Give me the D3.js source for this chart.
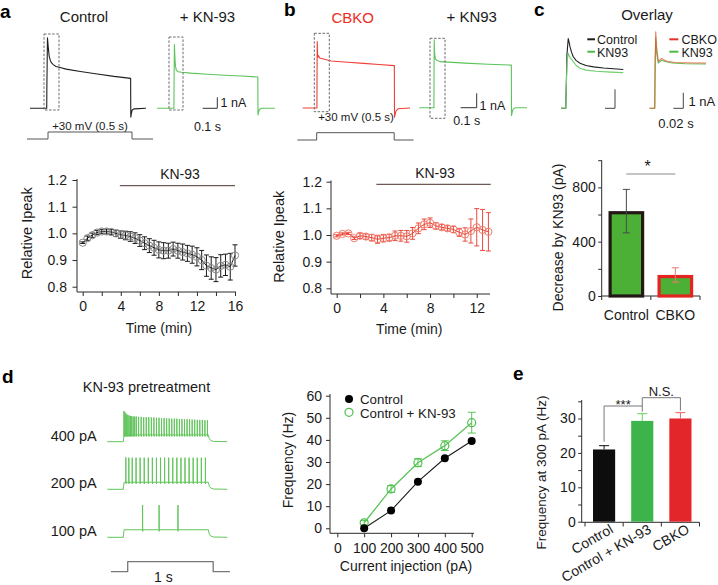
<!DOCTYPE html>
<html>
<head>
<meta charset="utf-8">
<script src="https://cdn.jsdelivr.net/npm/d3@7/dist/d3.min.js"></script>
<style>
html,body{margin:0;padding:0;background:#fff;}
svg{display:block;}
</style>
</head>
<body>
<svg id="fig" width="718" height="585" xmlns="http://www.w3.org/2000/svg"></svg>
<script>
// ================= DATA =================
// a: relative Ipeak time course (Control, KN-93 applied)
const timeA = [0,0.5,1,1.5,2,2.5,3,3.5,4,4.5,5,5.5,6,6.5,7,7.5,8,8.5,9,9.5,10,10.5,11,11.5,12,12.5,13,13.5,14,14.5,15,15.5,16];
const ipeakA = [0.965,0.982,0.993,1.003,1.007,1.007,1.005,1.0,0.995,0.992,0.988,0.982,0.973,0.963,0.954,0.946,0.938,0.935,0.935,0.941,0.935,0.93,0.925,0.92,0.912,0.9,0.879,0.87,0.864,0.878,0.882,0.875,0.917];
const errA = [0.003,0.008,0.008,0.008,0.008,0.009,0.01,0.012,0.014,0.016,0.018,0.02,0.022,0.024,0.026,0.028,0.03,0.03,0.028,0.026,0.028,0.03,0.03,0.032,0.034,0.036,0.04,0.042,0.045,0.042,0.04,0.05,0.04];
const kn93SpanA = [3.9, 16];
// b: relative Ipeak time course (CBKO)
const timeB = [0,0.5,1,1.5,2,2.5,3,3.5,4,4.5,5,5.5,6,6.5,7,7.5,8,8.5,9,9.5,10,10.5,11,11.5,12,12.5,13];
const ipeakB = [0.997,1.004,1.006,0.988,0.997,0.994,0.99,0.984,0.988,0.99,0.997,0.997,0.995,1.006,1.025,1.04,1.046,1.034,1.029,1.025,1.021,1.01,1.002,1.015,1.029,1.019,1.012];
const errB = [0.004,0.004,0.004,0.005,0.01,0.01,0.012,0.015,0.014,0.013,0.018,0.02,0.022,0.022,0.02,0.02,0.018,0.012,0.01,0.01,0.012,0.015,0.025,0.045,0.07,0.077,0.072];
const kn93SpanB = [3.4, 13.2];
const ipeakTicks = [0.8,0.9,1.0,1.1,1.2];
const timeTicksA = [0,2,4,6,8,10,12,14,16];
const timeLabelsA = [0,4,8,12,16];
const timeTicksB = [0,2,4,6,8,10,12];
const timeLabelsB = [0,4,8,12];

// current traces (ms, nA)
const traceCtrlA = [[0,0],[99.5,0],[100.5,2],[104,6.4],[108,5.65],[114,4.75],[121,4.35],[128,4.13],[140,3.95],[155,3.8],[185,3.68],[215,3.56],[300,3.35],[400,3.12],[500,2.9],[599,2.72],[600,-0.8],[603,-0.5],[608,-0.15],[620,-0.05],[690,0]];
const traceKNA = [[0,0],[99.5,0],[100.5,2.5],[102.5,5.8],[104,5.2],[106,4.4],[109,3.8],[114,3.45],[125,3.32],[146,3.28],[200,3.2],[300,3.1],[400,3.0],[500,2.93],[599,2.85],[600,-0.6],[603,-0.4],[608,-0.1],[620,0],[700,0]];
const traceCBKO = [[8,0],[99.5,0],[100.3,2.5],[101.5,4.65],[103,3.9],[106,3.55],[110,3.65],[118,3.5],[190,3.29],[300,3.2],[400,3.12],[500,3.04],[599,2.96],[600,-0.65],[603,-0.5],[610,-0.2],[625,-0.05],[700,0]];
const traceKNB = [[5,0],[99.5,0],[100.3,2.5],[101.5,4.75],[103,4.0],[106,3.6],[110,3.4],[120,3.3],[140,3.22],[300,3.12],[450,3.04],[599,2.98],[600,-0.55],[603,-0.4],[610,-0.1],[625,0],[700,0]];
const cmdStep = [[-25,0],[100,0],[100,1],[600,1],[600,0],[725,0]];
// c overlays
const ovControl = [[90,0],[99.5,0],[100.5,2],[102,5],[104.5,6.4],[106,6.1],[108,5.65],[111,5.15],[114.6,4.73],[120,4.4],[128,4.13],[140,3.93],[155,3.8],[175,3.7],[195,3.63],[214.6,3.56]];
const ovKN93 = [[90,0],[99.5,0],[100.5,1.8],[102,4.2],[104.5,5.05],[106,4.85],[109,4.6],[114.6,4.28],[120,3.95],[128,3.67],[140,3.5],[160,3.4],[190,3.32],[214.6,3.27]];
const ovCBKO = [[89,0],[99.5,0],[100.3,3],[101.5,4.9],[103,4.0],[106.6,3.0],[110,3.1],[113.4,3.2],[117,3.12],[125,3.0],[140,2.94],[160,2.92],[180,2.9],[202,2.9]];
const ovKN93b = [[89,0],[99.5,0],[100.3,2.8],[101.5,4.5],[103,3.6],[106.6,2.9],[110,3.0],[113.4,3.08],[120,3.0],[135,2.9],[160,2.86],[202,2.84]];

// c: decrease by KN93
const decCats = ["Control","CBKO"];
const decVals = [625,155];
const decErr = [160,53];
const decTicks = [0,200,400,600,800,1000];
const decLabels = [0,400,800];

// d: firing traces (spike time ms, peak mV)
const spikes400 = [[8,30],[18,26],[29,22],[41,19],[54,17],[68,15],[83,14],[99,13],[116,12],[134,12],[153,12],[180,11],[210,11],[240,10],[270,10],[300,10],[330,9],[360,9],[390,8],[420,8],[450,7],[480,7],[510,6],[540,6],[570,5],[600,5],[630,5],[660,4],[690,4],[720,3],[750,3],[780,3],[810,2],[840,2],[870,1],[900,1],[930,1],[960,0],[990,0]];
const spikes200 = [[30,34],[65,33],[105,33],[150,33],[198,33],[246,33],[294,33],[342,33],[390,33],[438,33],[486,33],[534,33],[582,33],[630,33],[678,33],[726,33],[774,33],[822,33],[870,33],[918,33],[966,33]];
const spikes100 = [[227,35],[421,35],[643,35]];
const dLabels = ["400 pA","200 pA","100 pA"];
const dPlateau = [-48,-47,-45.5];
const injStep = [[-195,0],[0,0],[0,1],[1000,1],[1000,0],[1195,0]];

// d: f-I curve
const currents = [100,200,300,400,500];
const freqControl = [0,8.0,21.1,31.7,39.5];
const freqKN93 = [2.5,17.8,29.7,37.4,47.8];
const errKN93 = [1.0,1.5,1.8,2.2,4.7];
const freqTicks = [0,10,20,30,40,50,60];
const currentTicks = [0,100,200,300,400,500];

// e: frequency at 300 pA
const eCats = ["Control","Control + KN-93","CBKO"];
const freq300 = [21.0,29.3,30.0];
const freq300Err = [1.1,2.1,1.7];
const eTicks = [0,5,10,15,20,25,30,35];
const eLabels = [0,10,20,30];

// ================= DRAWING =================
const svg = d3.select("#fig");
const FONT = "'Liberation Sans', Arial, Helvetica, sans-serif";
const AX = "#2b2b2b";
const GREEN = "#5cc45a";
const RED = "#ef3e33";

function txt(x, y, s, o = {}) {
  const t = svg.append("text").attr("x", x).attr("y", y).text(s)
    .attr("font-family", FONT).attr("font-size", o.size || 14)
    .attr("fill", o.fill || "#1a1a1a").attr("text-anchor", o.anchor || "start");
  if (o.weight) t.attr("font-weight", o.weight);
  if (o.rot != null) t.attr("transform", `rotate(${o.rot},${x},${y})`);
  return t;
}
function seg(x1, y1, x2, y2, o = {}) {
  const l = svg.append("line").attr("x1", x1).attr("y1", y1).attr("x2", x2).attr("y2", y2)
    .attr("stroke", o.stroke || AX).attr("stroke-width", o.w || 1);
  if (o.dash) l.attr("stroke-dasharray", o.dash);
  return l;
}
function drawTrace(data, x0, pxPerMs, yBase, pxPerUnit, color, w = 1.1, zero = 0, op = 1) {
  const x = d3.scaleLinear().domain([0, 1000]).range([x0, x0 + 1000 * pxPerMs]);
  const y = d3.scaleLinear().domain([zero, zero + 1]).range([yBase, yBase - pxPerUnit]);
  svg.append("path").attr("d", d3.line().x(d => x(d[0])).y(d => y(d[1]))(data))
    .attr("fill", "none").attr("stroke", color).attr("stroke-width", w)
    .attr("stroke-linejoin", "round").attr("stroke-opacity", op);
}
function styleAxis(g) {
  g.select(".domain").remove();
  g.selectAll(".tick line").attr("stroke", AX).attr("stroke-width", 1);
  g.selectAll(".tick text").attr("font-family", FONT).attr("font-size", 14).attr("fill", "#1a1a1a");
}
function leftAxis(scale, xPos, ticks, labeled, fmt, y1, y2, tick, pad) {
  const g = svg.append("g").attr("transform", `translate(${xPos},0)`)
    .call(d3.axisLeft(scale).tickValues(ticks).tickSize(tick).tickPadding(pad)
      .tickFormat(d => labeled.includes(d) ? fmt(d) : ""));
  styleAxis(g);
  seg(xPos, y1, xPos, y2);
}
function bottomAxis(scale, yPos, ticks, labeled, fmt, x1, x2, tick, pad) {
  const g = svg.append("g").attr("transform", `translate(0,${yPos})`)
    .call(d3.axisBottom(scale).tickValues(ticks).tickSize(tick).tickPadding(pad)
      .tickFormat(d => labeled.includes(d) ? fmt(d) : ""));
  styleAxis(g);
  seg(x1, yPos, x2, yPos);
}
function dashBox(x, y, w, h) {
  svg.append("rect").attr("x", x).attr("y", y).attr("width", w).attr("height", h)
    .attr("fill", "none").attr("stroke", "#6a6a6a").attr("stroke-width", 1)
    .attr("stroke-dasharray", "2.5,1.6");
}
function timeCourse(times, vals, errs, x, y, c) {
  const g = svg.append("g");
  times.forEach((t, i) => {
    const cx = x(t), y1 = y(vals[i] - errs[i]), y2 = y(vals[i] + errs[i]);
    g.append("line").attr("x1", cx).attr("x2", cx).attr("y1", y1).attr("y2", y2).attr("stroke", c.err).attr("stroke-width", 1);
    [y1, y2].forEach(yy => g.append("line").attr("x1", cx - 2.5).attr("x2", cx + 2.5).attr("y1", yy).attr("y2", yy).attr("stroke", c.err).attr("stroke-width", 1));
  });
  g.append("path").attr("d", d3.line().x((d, i) => x(times[i])).y(d => y(d))(vals))
    .attr("fill", "none").attr("stroke", c.line).attr("stroke-width", 1);
  g.selectAll("circle").data(vals).join("circle")
    .attr("cx", (d, i) => x(times[i])).attr("cy", d => y(d)).attr("r", 3.6)
    .attr("fill", "none").attr("stroke", c.pt).attr("stroke-width", 1);
}

// ---------- panel labels ----------
txt(0, 18, "a", { size: 19, weight: "bold", fill: "#000" });
txt(284, 16, "b", { size: 19, weight: "bold", fill: "#000" });
txt(534, 16, "c", { size: 19, weight: "bold", fill: "#000" });
txt(2, 383, "d", { size: 19, weight: "bold", fill: "#000" });
txt(513, 380, "e", { size: 19, weight: "bold", fill: "#000" });

// ---------- a: traces ----------
txt(84, 21.5, "Control", { size: 15, anchor: "middle" });
txt(207.5, 21.5, "+ KN-93", { size: 15, anchor: "middle" });
drawTrace(traceCtrlA, 30, 0.168, 108.3, 11, "#1e1e1e", 1.1);
drawTrace(traceKNA, 157.2, 0.168, 108.3, 11, GREEN, 1.1);
drawTrace(cmdStep, 31.2, 0.168, 139, 7, "#555", 1);
txt(90, 130, "+30 mV (0.5 s)", { size: 11.5, anchor: "middle" });
dashBox(44, 34, 15, 76);
dashBox(169, 37, 14, 73);
seg(217.3, 97.3, 217.3, 108.3, { stroke: "#333" });
seg(202.7, 108.3, 217.3, 108.3, { stroke: "#333" });
txt(220.5, 106.5, "1 nA", { size: 12.5 });
txt(207.5, 131, "0.1 s", { size: 12.5, anchor: "middle" });

// ---------- a: time course ----------
const xA = d3.scaleLinear().domain([0, 16]).range([82.7, 235]);
const yA = d3.scaleLinear().domain([0.8, 1.2]).range([286.7, 180]);
leftAxis(yA, 77, ipeakTicks, ipeakTicks, d3.format(".1f"), 179, 292, 4.5, 5.5);
bottomAxis(xA, 292, timeTicksA, timeLabelsA, d3.format("d"), 77, 236, 4, 5.5);
timeCourse(timeA, ipeakA, errA, xA, yA, { err: "#1a1a1a", line: "#1a1a1a", pt: "#8a8a8a" });
seg(xA(kn93SpanA[0]), 185.7, xA(kn93SpanA[1]), 185.7, { stroke: "#4a302a" });
txt(180, 179, "KN-93", { size: 14, anchor: "middle" });
txt(32, 233.3, "Relative Ipeak", { size: 14.5, anchor: "middle", rot: -90 });
txt(159, 333, "Time (min)", { size: 14, anchor: "middle" });

// ---------- b: traces ----------
txt(352.7, 22.5, "CBKO", { size: 15, anchor: "middle", fill: "#ee2b22" });
txt(471.7, 21.5, "+ KN93", { size: 15, anchor: "middle" });
drawTrace(traceCBKO, 301.5, 0.155, 108, 14.3, RED, 1.1);
drawTrace(traceKNB, 418.5, 0.155, 107.7, 14.3, GREEN, 1.1);
drawTrace(cmdStep, 301.2, 0.155, 140, 7.3, "#555", 1);
txt(356, 121, "+30 mV (0.5 s)", { size: 11.5, anchor: "middle" });
dashBox(314.3, 33.3, 15, 78.4);
dashBox(430, 38.3, 15, 80);
seg(476.7, 93.3, 476.7, 107.7, { stroke: "#333" });
seg(460.7, 107.7, 476.7, 107.7, { stroke: "#333" });
txt(479.5, 110, "1 nA", { size: 12.5 });
txt(466.7, 125, "0.1 s", { size: 12.5, anchor: "middle" });

// ---------- b: time course ----------
const xB = d3.scaleLinear().domain([0, 13]).range([336.7, 336.7 + 13 * 11.67]);
const yB = d3.scaleLinear().domain([0.8, 1.2]).range([288.3, 181.7]);
leftAxis(yB, 331, ipeakTicks, ipeakTicks, d3.format(".1f"), 180.5, 294, 4.5, 4.5);
bottomAxis(xB, 294, timeTicksB, timeLabelsB, d3.format("d"), 331, 490, 4, 5.5);
timeCourse(timeB, ipeakB, errB, xB, yB, { err: "#ec4a3c", line: "#e8402f", pt: "#f27a6c" });
seg(xB(kn93SpanB[0]), 184.3, xB(kn93SpanB[1]), 184.3, { stroke: "#4a302a" });
txt(435, 178, "KN-93", { size: 14, anchor: "middle" });
txt(284, 236.7, "Relative Ipeak", { size: 14.5, anchor: "middle", rot: -90 });
txt(409.3, 334, "Time (min)", { size: 14, anchor: "middle" });

// ---------- c: overlays ----------
txt(647, 19.5, "Overlay", { size: 15, anchor: "middle" });
drawTrace(ovControl, 516, 0.5, 108.3, 10.9, "#1e1e1e", 1.1);
drawTrace(ovKN93, 516, 0.5, 108.3, 10.9, "#6fcf6a", 1.1);
drawTrace(ovKN93b, 605, 0.5, 108.3, 15.6, GREEN, 1.1);
drawTrace(ovCBKO, 605, 0.5, 108.3, 15.6, "#e4572e", 1.1, 0, 0.8);
// legends
seg(587.3, 39.3, 595, 39.3, { stroke: "#1e1e1e", w: 2 });
txt(597, 43.5, "Control", { size: 12.5 });
seg(587.3, 51.7, 595, 51.7, { stroke: "#4cbb48", w: 2 });
txt(597, 56.5, "KN93", { size: 12.5 });
seg(669.3, 39.3, 678.3, 39.3, { stroke: "#e8312a", w: 2 });
txt(681.5, 43.5, "CBKO", { size: 12.5 });
seg(669.3, 51.7, 678.3, 51.7, { stroke: "#4cbb48", w: 2 });
txt(681.5, 56.5, "KN93", { size: 12.5 });
// scale bars
seg(615, 89.3, 615, 108.3, { stroke: "#444" });
seg(605, 108.3, 615, 108.3, { stroke: "#444" });
seg(683.3, 92.7, 683.3, 108.3, { stroke: "#444" });
seg(673.3, 108.3, 683.3, 108.3, { stroke: "#444" });
txt(688.5, 106, "1 nA", { size: 13 });
txt(676, 128.3, "0.02 s", { size: 13, anchor: "middle" });

// ---------- c: bar chart ----------
const xC = d3.scaleBand().domain(decCats).range([601.7, 700]).paddingInner(0.271).paddingOuter(0.139);
const yC = d3.scaleLinear().domain([0, 1000]).range([296, 160.2]);
leftAxis(yC, 601.7, decTicks, decLabels, d3.format("d"), 160.2, 296, 3.5, 2.5);
seg(601.7, 296, 700, 296);
const cBounds = [601.7, (xC("Control") + xC.bandwidth() + xC("CBKO")) / 2, 700];
cBounds.forEach(bx => seg(bx, 296, bx, 300));
const decEdge = ["#231815", "#e52421"];
const decErrColor = ["#4a4a4a", "#f07a6a"];
decCats.forEach((c, i) => {
  const bx = xC(c), bw = xC.bandwidth(), top = yC(decVals[i]);
  svg.append("rect").attr("x", bx + 1.6).attr("y", top + 1.6).attr("width", bw - 3.2).attr("height", yC(0) - top - 1.6)
    .attr("fill", "#4caf36").attr("stroke", decEdge[i]).attr("stroke-width", 3.2);
  const cx = bx + bw / 2, y1 = yC(decVals[i] - decErr[i]), y2 = yC(decVals[i] + decErr[i]);
  seg(cx, y1, cx, y2, { stroke: decErrColor[i] });
  seg(cx - 3.5, y1, cx + 3.5, y1, { stroke: decErrColor[i] });
  seg(cx - 3.5, y2, cx + 3.5, y2, { stroke: decErrColor[i] });
  txt(cx, 320, c, { size: 14, anchor: "middle" });
});
seg(xC("Control") + xC.bandwidth() / 2, 174, xC("CBKO") + xC.bandwidth() / 2, 174, { stroke: "#888" });
txt(647.7, 172, "*", { size: 16, anchor: "middle" });
txt(563, 237.5, "Decrease by KN93 (pA)", { size: 14, anchor: "middle", rot: -90 });

// ---------- d: firing traces ----------
txt(146.5, 392, "KN-93 pretreatment", { size: 14.5, anchor: "middle" });
const dBase = [441.7, 489.3, 537.3];
[spikes400, spikes200, spikes100].forEach((sp, k) => {
  const pl = dPlateau[k];
  const pts = [[-188, -70], [0, -70], [3, -60], [6, -53], [10, pl]];
  sp.forEach(([t, p]) => pts.push([t - 1, pl], [t, p], [t + 1.5, pl - 5], [t + 3, pl]));
  pts.push([1000, pl], [1012, -60], [1030, -66], [1060, -69], [1222, -70]);
  pts.sort((a, b) => a[0] - b[0]);
  drawTrace(pts, 123.3, 0.085, dBase[k], 0.307, "#62c55c", 1, -70);
  txt(96.7, dBase[k] - 1, dLabels[k], { size: 14.5, anchor: "end" });
});
drawTrace(injStep, 127.7, 0.0855, 571.7, 10, "#777", 1.3);
txt(163.3, 581.5, "1 s", { size: 14, anchor: "middle" });

// ---------- d: f-I curve ----------
const xD = d3.scaleLinear().domain([0, 500]).range([337.3, 471.7]);
const yD = d3.scaleLinear().domain([0, 60]).range([528.3, 395.7]);
leftAxis(yD, 330, freqTicks, freqTicks, d3.format("d"), 394, 533.3, 4, 4);
bottomAxis(xD, 533.3, currentTicks, currentTicks, d3.format("d"), 330, 474, 4, 5.5);
// KN-93 error bars
currents.forEach((c, i) => {
  const cx = xD(c), y1 = yD(freqKN93[i] - errKN93[i]), y2 = yD(freqKN93[i] + errKN93[i]);
  seg(cx, y1, cx, y2, { stroke: "#5cc45a" });
  seg(cx - 4, y1, cx + 4, y1, { stroke: "#5cc45a" });
  seg(cx - 4, y2, cx + 4, y2, { stroke: "#5cc45a" });
});
svg.append("path").attr("d", d3.line().x((d, i) => xD(currents[i])).y(d => yD(d))(freqKN93))
  .attr("fill", "none").attr("stroke", "#5cc45a").attr("stroke-width", 1.3);
svg.append("path").attr("d", d3.line().x((d, i) => xD(currents[i])).y(d => yD(d))(freqControl))
  .attr("fill", "none").attr("stroke", "#1a1a1a").attr("stroke-width", 1.1);
svg.append("g").selectAll("circle").data(freqKN93).join("circle")
  .attr("cx", (d, i) => xD(currents[i])).attr("cy", d => yD(d)).attr("r", 4)
  .attr("fill", "none").attr("stroke", "#4fbf4c").attr("stroke-width", 1.2);
svg.append("g").selectAll("circle").data(freqControl).join("circle")
  .attr("cx", (d, i) => xD(currents[i])).attr("cy", d => yD(d)).attr("r", 4)
  .attr("fill", "#000");
svg.append("circle").attr("cx", 349).attr("cy", 399).attr("r", 4).attr("fill", "#000");
txt(360, 403.5, "Control", { size: 13.3 });
svg.append("circle").attr("cx", 349).attr("cy", 412.3).attr("r", 4).attr("fill", "none").attr("stroke", "#4fbf4c").attr("stroke-width", 1.2);
txt(360, 417.5, "Control + KN-93", { size: 13.3 });
txt(292.5, 460, "Frequency (Hz)", { size: 14, anchor: "middle", rot: -90 });
txt(406, 571, "Current injection (pA)", { size: 14, anchor: "middle" });

// ---------- e: bars ----------
const xE = d3.scaleBand().domain(eCats).range([585, 699.5]).paddingInner(0.42).paddingOuter(0.21);
const yE = d3.scaleLinear().domain([0, 35]).range([521.7, 401.3]);
leftAxis(yE, 581.7, eTicks, eLabels, d3.format("d"), 400, 522.3, 3.5, 2.5);
seg(581.7, 522.3, 699.5, 522.3);
const eBounds = [xE.range()[0]].concat(eCats.map((c, i) => xE.range()[0] + (i + 1) * xE.step()));
eBounds.forEach(bx => seg(bx, 522.3, bx, 526.5));
const eFill = ["#0d0d0d", "#3cb44b", "#e2262a"];
const eErr = ["#111", "#5fd05f", "#f06060"];
eCats.forEach((c, i) => {
  const bx = xE(c), bw = xE.bandwidth(), top = yE(freq300[i]);
  svg.append("rect").attr("x", bx).attr("y", top).attr("width", bw).attr("height", yE(0) - top).attr("fill", eFill[i]);
  const cx = bx + bw / 2, ye = yE(freq300[i] + freq300Err[i]);
  seg(cx, top, cx, ye, { stroke: eErr[i] });
  seg(cx - 5, ye, cx + 5, ye, { stroke: eErr[i] });
  txt(cx + 10, 532, c, { size: 14, anchor: "end", rot: -30 });
});
const cE = c => xE(c) + xE.bandwidth() / 2;
// *** bracket
seg(cE(eCats[0]), 406, cE(eCats[1]), 406, { stroke: "#777" });
seg(cE(eCats[0]), 406, cE(eCats[0]), yE(freq300[0] + freq300Err[0]) - 4, { stroke: "#777" });
seg(cE(eCats[1]), 406, cE(eCats[1]), yE(freq300[1] + freq300Err[1]) - 2, { stroke: "#777" });
txt((cE(eCats[0]) + cE(eCats[1])) / 2, 408.5, "***", { size: 13, anchor: "middle" });
// N.S. bracket
seg(cE(eCats[1]), 397.7, cE(eCats[2]), 397.7, { stroke: "#777" });
seg(cE(eCats[1]), 397.7, cE(eCats[1]), 406, { stroke: "#777" });
seg(cE(eCats[2]), 397.7, cE(eCats[2]), yE(freq300[2] + freq300Err[2]) - 2, { stroke: "#777" });
txt((cE(eCats[1]) + cE(eCats[2])) / 2, 396, "N.S.", { size: 13, anchor: "middle" });
txt(546, 472.5, "Frequency at 300 pA (Hz)", { size: 13.5, anchor: "middle", rot: -90 });
</script>
</body>
</html>
